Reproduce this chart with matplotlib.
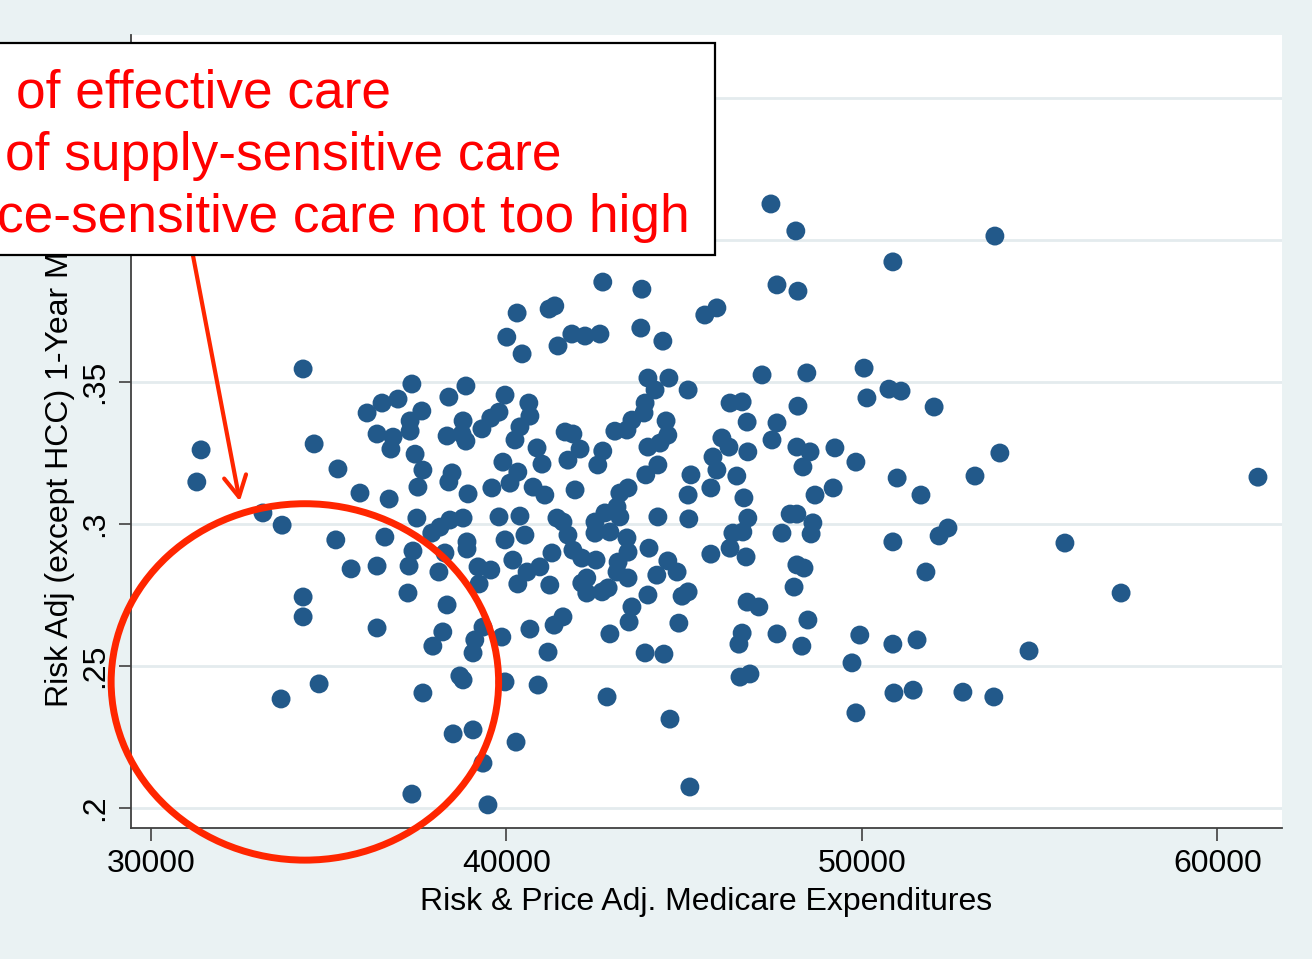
import matplotlib
matplotlib.use("Agg")
import matplotlib.pyplot as plt
from matplotlib.patches import Ellipse, Rectangle

plt.rcParams['font.family'] = ['Liberation Sans', 'DejaVu Sans']

# Risk & price adjusted Medicare spending vs. risk adjusted 1-year mortality
spending = [
    31410, 31290, 33150, 33690, 33660, 34280, 34590, 35260, 35880, 35200,
    35630, 34280, 34280, 34730, 36080, 36500, 36950, 36360, 36810, 36750,
    36700, 36580, 36360, 36360, 37340, 37620, 37290, 37290, 37430, 37650,
    37510, 38380, 38330, 38470, 38380, 37480, 37370, 37260, 37230, 37900,
    38130, 38270, 38100, 38330, 38210, 37930, 37650, 37340, 38860, 38780,
    38750, 38860, 39310, 39560, 39790, 39960, 39900, 39590, 38920, 38410,
    38780, 38890, 38890, 39200, 39560, 39230, 39340, 39110, 39060, 38690,
    38780, 38500, 39060, 39340, 39480, 40010, 40300, 40440, 40630, 40660,
    40380, 40240, 40860, 41000, 40320, 40100, 40750, 41080, 39790, 40380,
    39960, 40520, 40180, 40580, 40320, 39870, 39960, 40270, 40660, 40890,
    40940, 41220, 41170, 41200, 41360, 41450, 41840, 42210, 42630, 42710,
    41650, 41870, 42070, 41730, 42710, 42570, 41930, 41420, 41590, 41730,
    41280, 41870, 42120, 42520, 42490, 42490, 42260, 42120, 42260, 41590,
    41340, 42770, 42690, 43810, 43780, 43050, 43390, 43530, 43870, 43900,
    43980, 44180, 43980, 43920, 43190, 43420, 43110, 43190, 42910, 43390,
    43420, 43140, 43110, 43420, 42860, 43530, 43450, 42910, 43900, 42830,
    44010, 43980, 44400, 44570, 45110, 44490, 44540, 44320, 44260, 45190,
    45110, 44260, 45130, 44540, 44230, 44800, 44940, 45110, 44850, 44430,
    44600, 45160, 45580, 45920, 46290, 46630, 46770, 46060, 46260, 46790,
    45810, 45920, 46480, 45750, 46680, 46790, 46370, 46650, 46290, 45750,
    46740, 46770, 46630, 46540, 46570, 46850, 47440, 48140, 47610, 48200,
    47190, 47610, 47470, 48170, 48200, 47750, 47980, 48170, 48170, 48090,
    47100, 47610, 48340, 48450, 48540, 49240, 48680, 49190, 49830, 48620,
    48570, 48370, 48480, 48310, 50060, 50140, 50760, 51100, 50870, 50990,
    50870, 49940, 50870, 49720, 50900, 49830, 52030, 51660, 53740, 53880,
    53180, 61140, 52170, 52420, 51800, 51550, 51440, 52840, 53710, 54700,
    55710, 57290,
]
mortality = [
    .3261, .3148, .3039, .2996, .2384, .3546, .3282, .3194, .3109, .2944,
    .2842, .2743, .2673, .2437, .3391, .3426, .3440, .3317, .3306, .3264,
    .3088, .2954, .2852, .2634, .3493, .3398, .3363, .3327, .3246, .3190,
    .3130, .3447, .3310, .3180, .3148, .3021, .2905, .2852, .2757, .2968,
    .2989, .2898, .2831, .2715, .2620, .2570, .2405, .2049, .3486, .3363,
    .3317, .3292, .3335, .3373, .3394, .3454, .3218, .3127, .3106, .3014,
    .3021, .2937, .2912, .2849, .2838, .2789, .2637, .2592, .2546, .2465,
    .2451, .2261, .2275, .2158, .2011, .3658, .3743, .3599, .3426, .3380,
    .3342, .3296, .3268, .3211, .3183, .3144, .3130, .3102, .3025, .3028,
    .2944, .2961, .2873, .2831, .2789, .2602, .2444, .2232, .2630, .2433,
    .2849, .2785, .2549, .3757, .3768, .3627, .3669, .3662, .3669, .3852,
    .3324, .3317, .3264, .3225, .3257, .3208, .3120, .3021, .3007, .2961,
    .2898, .2908, .2880, .2873, .3007, .2968, .2810, .2792, .2757, .2673,
    .2644, .3039, .2761, .3827, .3690, .3327, .3331, .3366, .3391, .3426,
    .3514, .3472, .3271, .3173, .3109, .3127, .3060, .3025, .2972, .2951,
    .2901, .2866, .2831, .2810, .2775, .2708, .2655, .2613, .2546, .2391,
    .2915, .2750, .3644, .3514, .3472, .3363, .3313, .3285, .3208, .3173,
    .3102, .3025, .3018, .2870, .2820, .2831, .2746, .2761, .2651, .2542,
    .2313, .2074, .3736, .3761, .3426, .3430, .3359, .3303, .3271, .3254,
    .3236, .3190, .3169, .3127, .3092, .3021, .2968, .2972, .2915, .2894,
    .2884, .2725, .2616, .2577, .2461, .2472, .4127, .4032, .3842, .3820,
    .3525, .3356, .3296, .3271, .3415, .2968, .3035, .3035, .2856, .2778,
    .2708, .2613, .3201, .3532, .3254, .3268, .3102, .3127, .3218, .3004,
    .2965, .2845, .2662, .2570, .3549, .3444, .3475, .3468, .3923, .3162,
    .2937, .2609, .2577, .2511, .2405, .2335, .3412, .3102, .4014, .3250,
    .3169, .3165, .2958, .2986, .2831, .2592, .2415, .2408, .2391, .2553,
    .2933, .2757,
]

x_ticks = [30000, 40000, 50000, 60000]
y_ticks = [0.20, 0.25, 0.30, 0.35, 0.40, 0.45]
# the .4 and .45 labels sit under the note box
y_tick_labels = ['.2', '.25', '.3', '.35', '', '']

notes = ['of effective care',
         'of supply-sensitive care',
         'ce-sensitive care not too high']

navy = '#22598A'
note_red = '#FF0000'
mark_red = '#FF2600'

fig = plt.figure(figsize=(13.12, 9.59), dpi=100, facecolor='#EAF2F3')
ax = fig.add_axes([0.0998, 0.1366, 0.8773, 0.8269])
ax.set_facecolor('white')

ax.scatter(spending, mortality, s=185, color=navy, edgecolors='none', zorder=3)

ax.set_xlim(29437, 61815)
ax.set_ylim(0.19296, 0.4722)
ax.set_xticks(x_ticks)
ax.set_yticks(y_ticks)
ax.set_yticklabels(y_tick_labels, rotation=90, va='center')
ax.yaxis.grid(True, color='#E4EBEE', linewidth=2)
ax.set_axisbelow(True)

for side in ('top', 'right'):
    ax.spines[side].set_visible(False)
for side in ('left', 'bottom'):
    ax.spines[side].set_color('#404040')
    ax.spines[side].set_linewidth(1.3)
ax.tick_params(axis='both', direction='out', length=9, width=1.2,
               color='#404040', labelsize=23, pad=6)

ax.set_xlabel('Risk & Price Adj. Medicare Expenditures', fontsize=23, labelpad=6)
ax.set_ylabel('Risk Adj (except HCC) 1-Year Mortality', fontsize=23, labelpad=4)

# red ring around the low-spending / low-mortality corner
ring = Ellipse((34330, 0.2444), width=10900, height=0.1255, fill=False,
               edgecolor=mark_red, linewidth=5, zorder=6, clip_on=False)
ax.add_patch(ring)

# arrow from the note box down to the ring
ax.annotate('', xy=(32500, 0.3080), xytext=(31180, 0.3947),
            arrowprops=dict(arrowstyle='->,head_length=1.5,head_width=0.8',
                            color=mark_red, lw=3.0, shrinkA=0, shrinkB=0,
                            mutation_scale=10),
            annotation_clip=False, zorder=6)

# note box over the top-left corner
box = Rectangle((-0.01, 0.7341), 0.555, 0.2211, transform=fig.transFigure,
                facecolor='white', edgecolor='black', linewidth=1.6, zorder=5)
fig.patches.append(box)

note_x = [0.0122, 0.0038, -0.0023]
note_y = [0.8884, 0.8227, 0.7580]
for tx, ty, line in zip(note_x, note_y, notes):
    fig.text(tx, ty, line, color=note_red, fontsize=38.3, ha='left',
             va='baseline', zorder=6)

fig.savefig('out.png', dpi=100, facecolor=fig.get_facecolor())
